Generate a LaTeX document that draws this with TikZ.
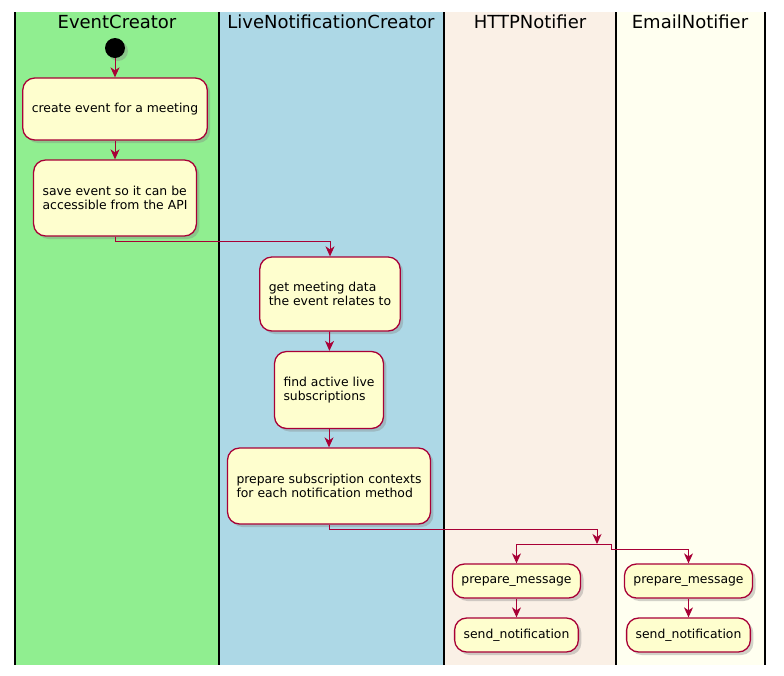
\documentclass[tikz,border=0pt]{standalone}
\usepackage{fontspec}
\setmainfont{DejaVu Sans}
\usetikzlibrary{arrows.meta,shadows}
\definecolor{umlred}{HTML}{A80036}
\definecolor{umlbox}{HTML}{FEFECE}
\definecolor{laneA}{HTML}{90EE90}
\definecolor{laneB}{HTML}{ADD8E6}
\definecolor{laneC}{HTML}{FAF0E6}
\definecolor{laneD}{HTML}{FFFFF0}
\begin{document}
\begin{tikzpicture}[x=1pt,y=-1pt,
    act/.style={draw=umlred, line width=1.3pt, fill=umlbox, rounded corners=12pt, align=left,
        font=\fontsize{12.4}{14}\selectfont, inner xsep=9pt,
        drop shadow={shadow xshift=3pt, shadow yshift=-3pt, opacity=0.35}},
    flow/.style={draw=umlred, line width=1pt, -{Stealth[length=10pt,width=9pt,inset=3pt]}},
    lanetitle/.style={font=\fontsize{18}{20}\selectfont}]
        \useasboundingbox (0,0) rectangle (784,675);

        % corsie
        \fill[laneA] (15,12) rectangle (219,665);
        \fill[laneB] (219,12) rectangle (444,665);
        \fill[laneC] (444,12) rectangle (616,665);
        \fill[laneD] (616,12) rectangle (765,665);
        \foreach \x in {15,219,444,616,765}
            \draw[line width=1.5pt] (\x,12) -- (\x,665);

        \node[lanetitle] (tcreator) at (117,22) {EventCreator};
        \node[lanetitle] (tlive) at (331,22) {LiveNotificationCreator};
        \node[lanetitle] (thttp) at (530,22) {HTTPNotifier};
        \node[lanetitle] (temail) at (690,22) {EmailNotifier};

        % attivita
        \node[circle, fill=black, minimum size=20pt, inner sep=0pt,
            drop shadow={shadow xshift=3pt, shadow yshift=-3pt, opacity=0.35}] (start) at (115,48) {};
        \node[act, minimum height=62pt] (create) at (115,109) {create event for a meeting};
        \node[act, minimum height=76pt] (save) at (115,198) {save event so it can be\\accessible from the API};
        \node[act, minimum height=74pt] (meetdata) at (330,294) {get meeting data\\the event relates to};
        \node[act, minimum height=77pt] (findsubs) at (329,390) {find active live\\subscriptions};
        \node[act, minimum height=76pt] (prepctx) at (329,486) {prepare subscription contexts\\for each notification method};
        \node[act, minimum height=34pt] (httpprep) at (516.5,581) {prepare\_message};
        \node[act, minimum height=34pt] (httpsend) at (516.5,635) {send\_notification};
        \node[act, minimum height=34pt] (mailprep) at (688.5,581) {prepare\_message};
        \node[act, minimum height=34pt] (mailsend) at (688.5,635) {send\_notification};
        \coordinate (fork) at (597,544);

        % frecce
        \draw[flow] (start) -- (create);
        \draw[flow] (create) -- (save);
        \draw[flow] (save.south) -- ++(0,5) -| (meetdata.north);
        \draw[flow] (meetdata) -- (findsubs);
        \draw[flow] (findsubs) -- (prepctx);
        \draw[flow] (prepctx.south) -- ++(0,5) -| (fork);
        \draw[flow] (fork) -| (httpprep.north);
        \draw[flow] (fork) -- ++(14,0) -- ++(0,5) -| (mailprep.north);
        \draw[flow] (httpprep) -- (httpsend);
        \draw[flow] (mailprep) -- (mailsend);
    \end{tikzpicture}
\end{document}
